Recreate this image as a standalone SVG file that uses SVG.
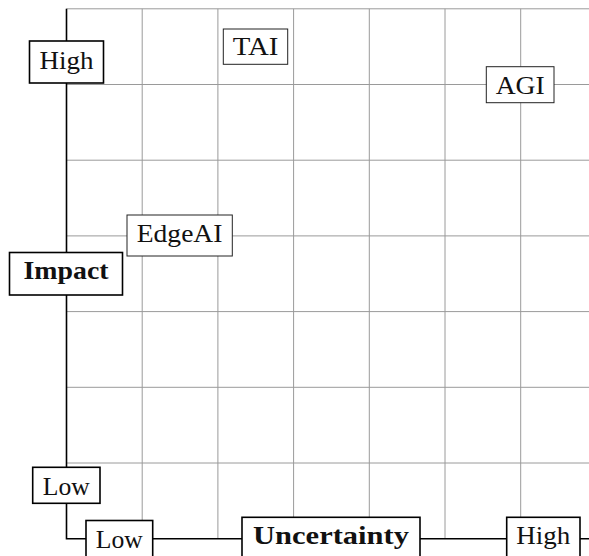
<svg xmlns="http://www.w3.org/2000/svg" width="589" height="556" viewBox="0 0 589 556">
  <style>
    .grid line { stroke: #9a9a9a; stroke-width: 1; }
    .axis { fill: none; stroke: #000; stroke-width: 1.6; }
    .lbl rect { fill: #fff; stroke: #000; stroke-width: 1.6; }
    .pt rect { fill: #fff; stroke: #222; stroke-width: 1; }
    text { font-family: "Liberation Serif", "Times New Roman", serif; font-size: 26px; fill: #111; text-anchor: middle; }
    .b { font-weight: bold; }
  </style>
  <rect width="589" height="556" fill="#fff"/>

  <!-- background grid -->
  <g class="grid">
    <line x1="142.2" y1="8.8" x2="142.2" y2="538.7"/>
    <line x1="217.9" y1="8.8" x2="217.9" y2="538.7"/>
    <line x1="293.6" y1="8.8" x2="293.6" y2="538.7"/>
    <line x1="369.3" y1="8.8" x2="369.3" y2="538.7"/>
    <line x1="445" y1="8.8" x2="445" y2="538.7"/>
    <line x1="520.7" y1="8.8" x2="520.7" y2="538.7"/>
    <line x1="66.5" y1="8.8" x2="589" y2="8.8"/>
    <line x1="66.5" y1="84.5" x2="589" y2="84.5"/>
    <line x1="66.5" y1="160.2" x2="589" y2="160.2"/>
    <line x1="66.5" y1="235.9" x2="589" y2="235.9"/>
    <line x1="66.5" y1="311.6" x2="589" y2="311.6"/>
    <line x1="66.5" y1="387.3" x2="589" y2="387.3"/>
    <line x1="66.5" y1="463" x2="589" y2="463"/>
  </g>

  <!-- axes -->
  <g id="connectors">
    <path class="axis" d="M66.5 8.8 V538.7 H589"/>
  </g>

  <!-- vertical axis labels -->
  <g id="impact-high" class="lbl">
    <rect x="29.5" y="41" width="74" height="42"/>
    <text x="66.5" y="69" textLength="54" lengthAdjust="spacingAndGlyphs">High</text>
  </g>
  <g id="impact" class="lbl">
    <rect x="9.5" y="252.5" width="113" height="42.5"/>
    <text class="b" x="66" y="278.5" textLength="85" lengthAdjust="spacingAndGlyphs">Impact</text>
  </g>
  <g id="impact-low" class="lbl">
    <rect x="32.7" y="467.3" width="67.3" height="36"/>
    <text x="66.3" y="495" textLength="47" lengthAdjust="spacingAndGlyphs">Low</text>
  </g>

  <!-- horizontal axis labels -->
  <g id="uncertainty-low" class="lbl">
    <rect x="86" y="520.5" width="66.7" height="36.5"/>
    <text x="119.3" y="547.7" textLength="47" lengthAdjust="spacingAndGlyphs">Low</text>
  </g>
  <g id="uncertainty" class="lbl">
    <rect x="242" y="517.3" width="178" height="43"/>
    <text class="b" x="331" y="544" textLength="156" lengthAdjust="spacingAndGlyphs">Uncertainty</text>
  </g>
  <g id="uncertainty-high" class="lbl">
    <rect x="506.7" y="517.3" width="73.3" height="43"/>
    <text x="543.3" y="544" textLength="54" lengthAdjust="spacingAndGlyphs">High</text>
  </g>

  <!-- plotted technologies -->
  <g id="tai" class="pt">
    <rect x="223.3" y="29" width="64.4" height="35.3"/>
    <text x="255.5" y="55" textLength="45.7" lengthAdjust="spacingAndGlyphs">TAI</text>
  </g>
  <g id="agi" class="pt">
    <rect x="486.3" y="66.7" width="67.7" height="36"/>
    <text x="520.2" y="94" textLength="49" lengthAdjust="spacingAndGlyphs">AGI</text>
  </g>
  <g id="edgeai" class="pt">
    <rect x="127" y="215" width="105.3" height="41"/>
    <text x="179.6" y="242.3" textLength="85.7" lengthAdjust="spacingAndGlyphs">EdgeAI</text>
  </g>
</svg>
